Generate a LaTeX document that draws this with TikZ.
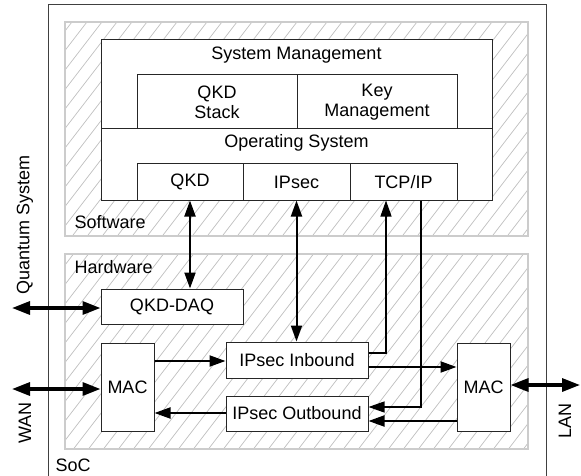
\documentclass[tikz,border=0pt]{standalone}
\usepackage{fontspec}
\setmainfont{Liberation Sans}
\usetikzlibrary{arrows.meta}

\begin{document}
\begin{tikzpicture}[x=1pt,y=-1pt,font=\fontsize{18}{20}\selectfont,
    blk/.style={draw=black!85,line width=1pt,fill=white,inner sep=0pt,align=center},
    region/.style={draw=black!20,line width=1.5pt},
    arr/.style={line width=2pt,-{Triangle[length=16pt,width=11pt]}},
    darr/.style={line width=2pt,{Triangle[length=16pt,width=11pt]}-{Triangle[length=16pt,width=11pt]}},
    thinarr/.style={line width=1.2pt,-{Triangle[length=16pt,width=11pt]}},
    ext/.style={line width=3.2pt,{Triangle[length=18pt,width=13pt]}-{Triangle[length=18pt,width=13pt]}}]
  \useasboundingbox (0,0) rectangle (581,476);
  % SoC
  \draw[black!75,line width=1pt] (48,476) |- (546,5) -- (546,476);
  \node[anchor=west] (soc) at (52,465) {SoC};
  % software / hardware regions
  \begin{scope}
    \clip (65,22) rectangle (528,236) (65,254) rectangle (528,449);
    \foreach \i in {-400,-385,...,560}
      \draw[black!25,line width=0.7pt] (\i,460) -- ++(400,-520);
  \end{scope}
  \draw[region] (65,22) rectangle (528,236);
  \draw[region] (65,254) rectangle (528,449);
  \node[anchor=west] (sw) at (71,222) {Software};
  \node[anchor=west] (hw) at (71,267) {Hardware};
  % software stack
  \node[blk,minimum width=391pt,minimum height=89pt,
    label={[anchor=center,yshift=-16pt]north:System Management}] (sm) at (296.5,84.5) {};
  \node[blk,minimum width=391pt,minimum height=71pt,
    label={[anchor=center,yshift=-14.5pt]north:Operating System}] (os) at (296.5,164.5) {};
  \node[blk,minimum width=160pt,minimum height=54pt] (qkdstack) at (217,102) {QKD\\Stack};
  \node[blk,minimum width=160pt,minimum height=54pt] (keymgmt) at (377,102) {Key\\Management};
  \node[blk,minimum width=106pt,minimum height=36pt] (qkd) at (190,182) {QKD};
  \node[blk,minimum width=107pt,minimum height=36pt] (ipsec) at (296.5,182) {IPsec};
  \node[blk,minimum width=107pt,minimum height=36pt] (tcpip) at (403.5,182) {TCP/IP};
  % hardware
  \node[blk,minimum width=142pt,minimum height=35pt] (qkddaq) at (172,306.5) {QKD-DAQ};
  \node[blk,minimum width=53pt,minimum height=88pt] (macl) at (127.5,387) {MAC};
  \node[blk,minimum width=142pt,minimum height=36pt] (inb) at (297,360) {IPsec Inbound};
  \node[blk,minimum width=142pt,minimum height=35pt] (outb) at (297,413.5) {IPsec Outbound};
  \node[blk,minimum width=53pt,minimum height=88pt] (macr) at (483.5,387) {MAC};
  % outside
  \coordinate (qs) at (12,308);
  \coordinate (wan) at (12,389);
  \coordinate (lan) at (580,385);
  \node[rotate=90] (qstxt) at (25,225) {Quantum System};
  \node[rotate=90] (wantxt) at (25,423) {WAN};
  \node[rotate=90] (lantxt) at (565,421) {LAN};
  % connectors
  \draw[darr] (qkd.south) -- (qkd.south |- qkddaq.north);
  \draw[darr] (ipsec.south) -- (ipsec.south |- inb.north);
  \draw[thinarr] ([yshift=7pt]inb.east) -| ([xshift=-17.5pt]tcpip.south);
  \draw[thinarr] ([xshift=17.5pt]tcpip.south) |- ([yshift=6.5pt]outb.east);
  \draw[arr] ([yshift=-1pt]macl.east |- inb.west) -- ([yshift=-1pt]inb.west);
  \draw[arr] ([yshift=0.5pt]outb.west) -- ([yshift=0.5pt]outb.west -| macl.east);
  \draw[arr] ([yshift=-7pt]inb.east) -- ([yshift=-7pt]inb.east -| macr.west);
  \draw[arr] ([yshift=-7.5pt]outb.east -| macr.west) -- ([yshift=-7.5pt]outb.east);
  \draw[ext] (qs) -- (qs -| qkddaq.west);
  \draw[ext] (wan) -- (wan -| macl.west);
  \draw[ext] (macr.east |- lan) -- (lan);
\end{tikzpicture}
\end{document}
